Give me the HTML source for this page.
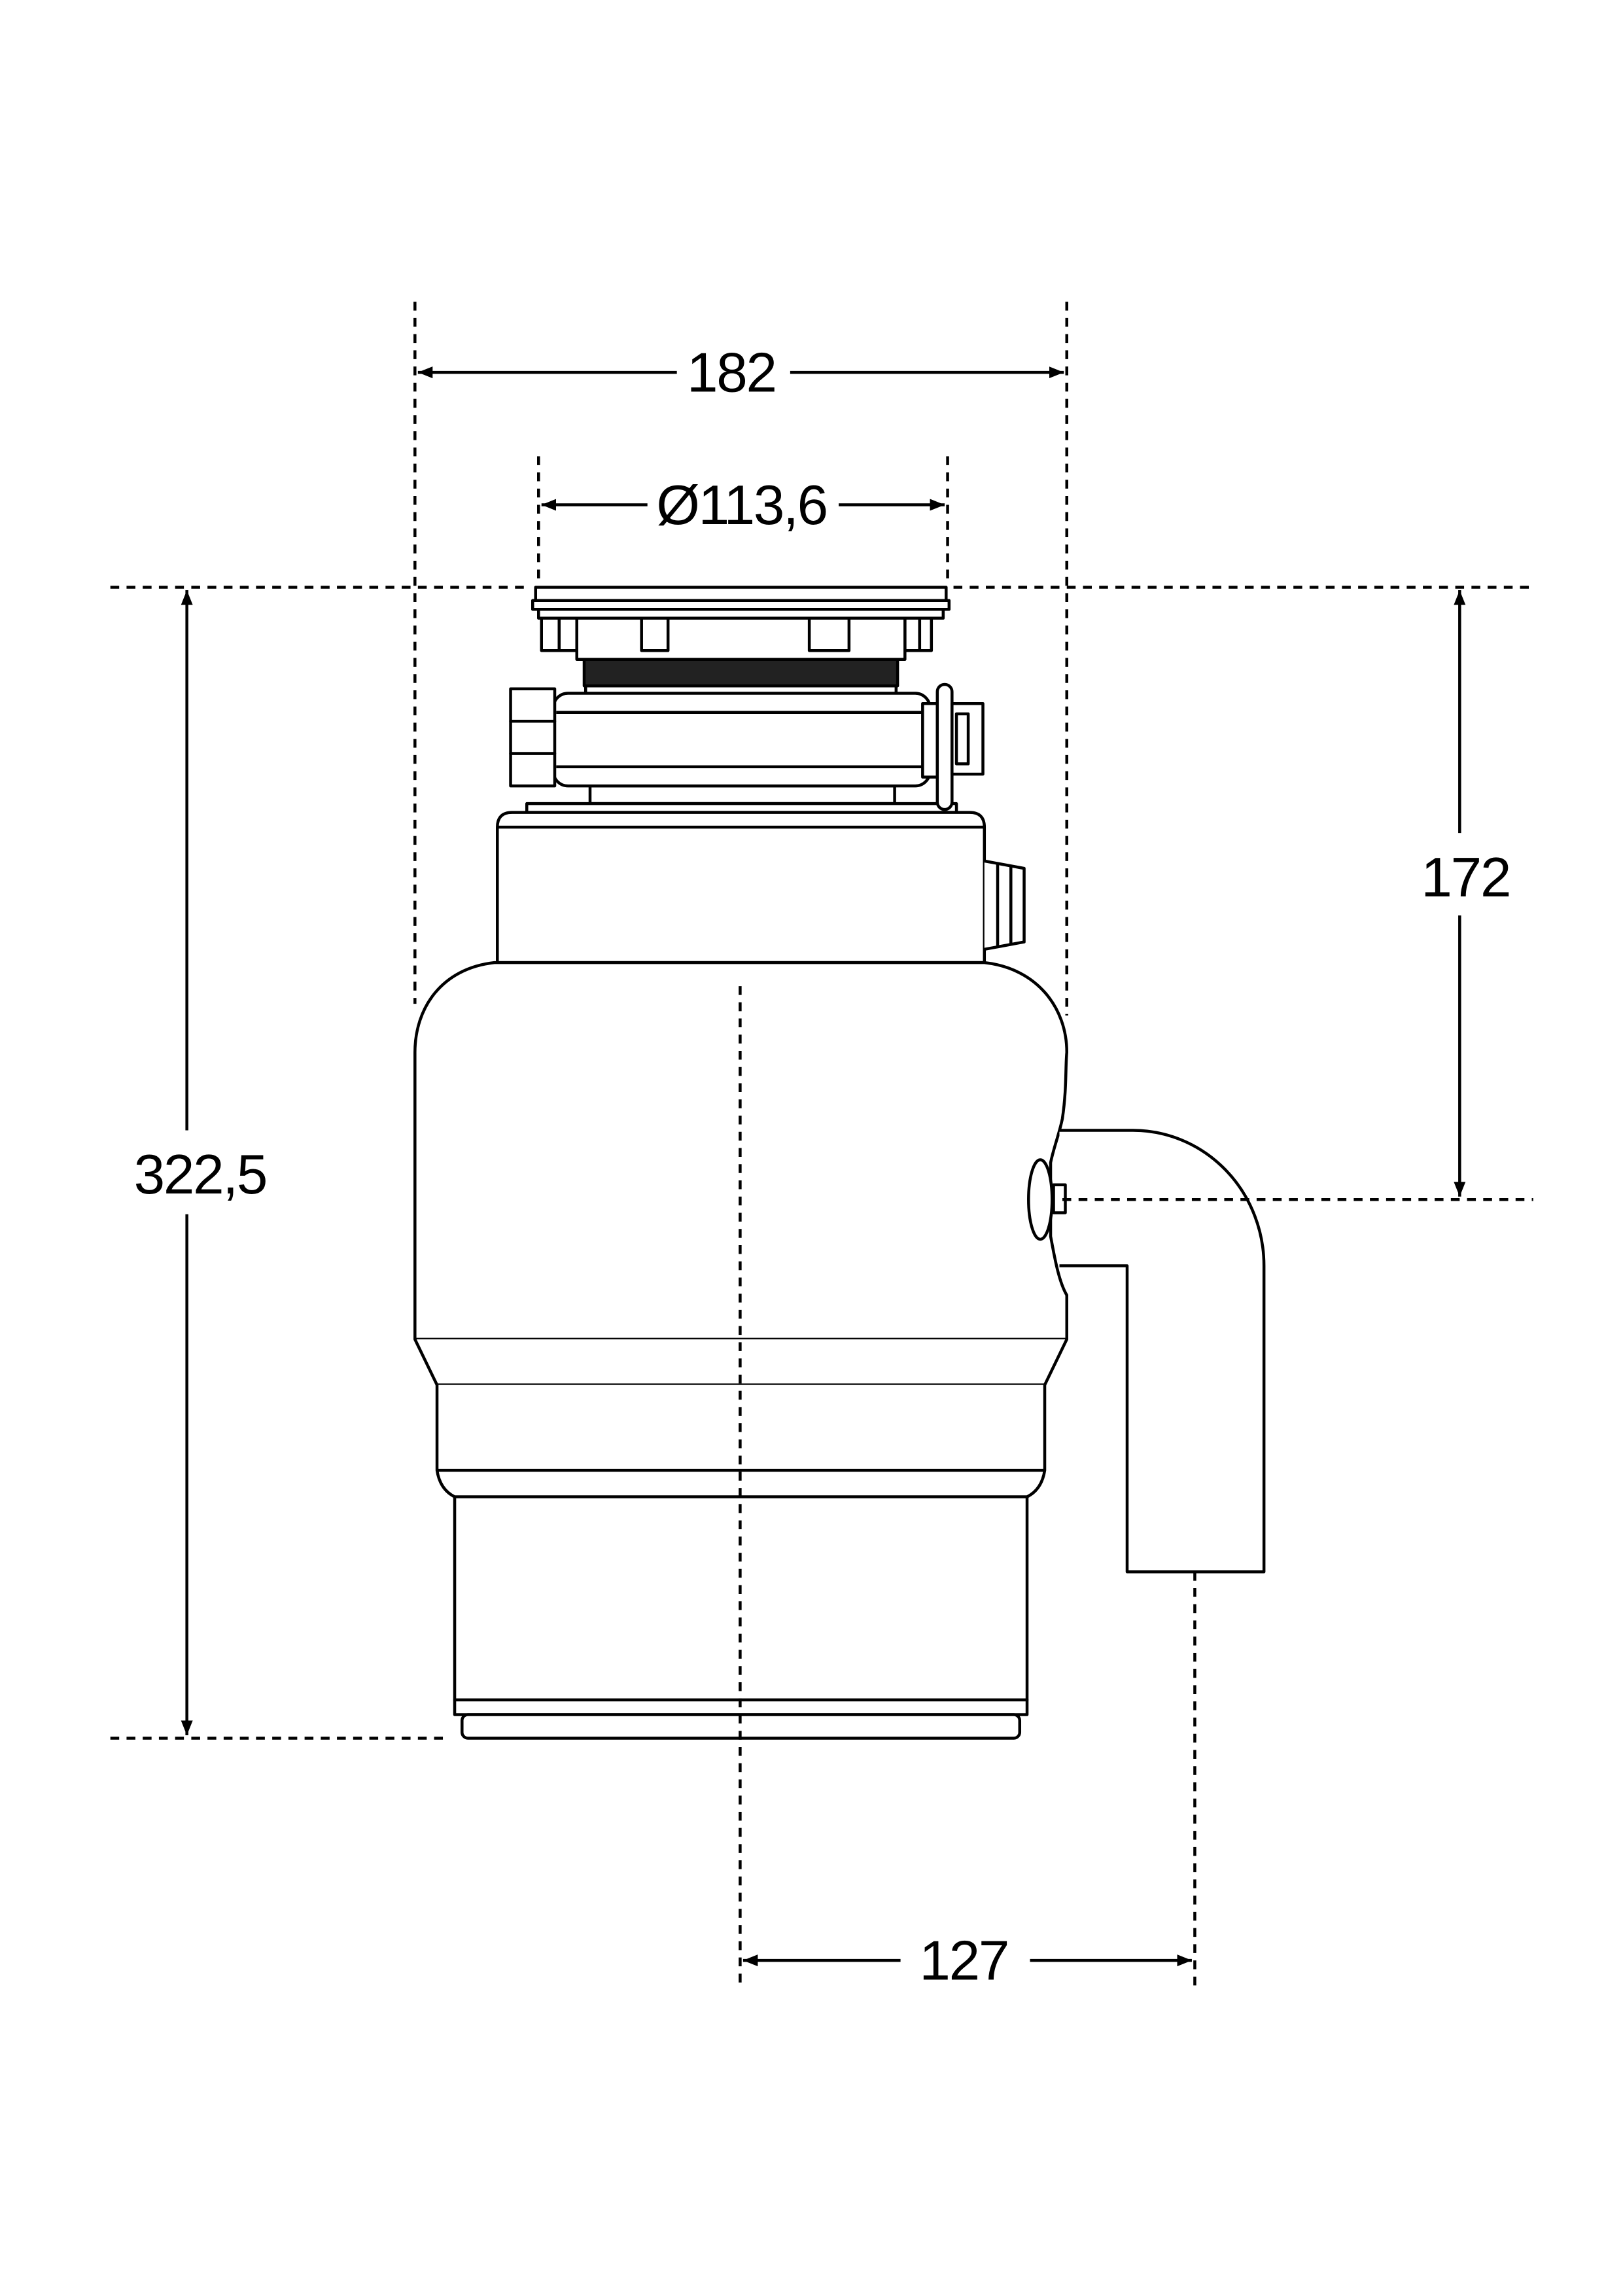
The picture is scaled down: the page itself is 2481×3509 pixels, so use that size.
<!DOCTYPE html>
<html><head><meta charset="utf-8"><style>html,body{margin:0;padding:0;background:#fff}svg{display:block}</style></head>
<body>
<svg width="2481" height="3509" viewBox="0 0 1103 1560" xmlns="http://www.w3.org/2000/svg">
<defs><marker id="a" viewBox="0 0 10 10" refX="10" refY="5" markerWidth="10" markerHeight="10" markerUnits="userSpaceOnUse" orient="auto-start-reverse"><path d="M0,1 L10,5 L0,9z" fill="#000"/></marker></defs>
<rect width="1103" height="1560" fill="#fff"/>
<g stroke="#000" stroke-width="2" fill="#fff" stroke-linejoin="round">
<rect x="364" y="399" width="279" height="9"/>
<rect x="362" y="408" width="283" height="6"/>
<rect x="366" y="414" width="275" height="6"/>
<rect x="368" y="420" width="12" height="22"/>
<rect x="380" y="420" width="12" height="22"/>
<rect x="615" y="420" width="10" height="22"/>
<rect x="625" y="420" width="8" height="22"/>
<rect x="392" y="420" width="223" height="28"/>
<rect x="436" y="420" width="18" height="22"/>
<rect x="550" y="420" width="27" height="22"/>
<rect x="397" y="448" width="213" height="18" fill="#222"/>
<rect x="398" y="466" width="211" height="6"/>
<rect x="401" y="534" width="207" height="12"/>
<rect x="358" y="546" width="292" height="6"/>
<rect x="376" y="471" width="256" height="63" rx="10"/>
<line x1="378" y1="484" x2="630" y2="484"/>
<line x1="378" y1="521" x2="630" y2="521"/>
<rect x="347" y="468" width="30" height="22"/>
<rect x="347" y="490" width="30" height="22"/>
<rect x="347" y="512" width="30" height="22"/>
<rect x="627" y="478" width="10" height="50"/>
<rect x="637" y="465" width="10" height="85" rx="5"/>
<rect x="647" y="478" width="21" height="48"/>
<rect x="650" y="485" width="8" height="34"/>
<path d="M338,562 Q338,552 348,552 L659,552 Q669,552 669,562 L669,654 L338,654 Z"/>
<line x1="338" y1="562" x2="669" y2="562"/>
<path d="M669,585 L696,590 L696,640 L669,645"/>
<line x1="678" y1="587" x2="678" y2="643"/>
<line x1="687" y1="588" x2="687" y2="642"/>
<path d="M336,654 C300,658 282,685 282,715 L282,910 L725,910 L725,880 C719,870 716,850 714,840 L714,790 C716,780 720,770 722,760 C725,740 724,725 725,715 C725,685 705,658 669,654 Z"/>
<path d="M720,768 L770,768 A89,92 0 0 1 859,860 L859,1068 L766,1068 L766,860 L720,860"/>
<ellipse cx="707" cy="815" rx="8" ry="27"/>
<rect x="716" y="805" width="8" height="19"/>
<path d="M282,910 L297,941 L710,941 L725,910"/>
<path d="M297,941 L297,999 Q299,1012 309,1017 L698,1017 Q708,1012 710,999 L710,941"/>
<line x1="297" y1="999" x2="710" y2="999"/>
<rect x="309" y="1017" width="389" height="138"/>
<rect x="309" y="1155" width="389" height="10"/>
<rect x="314" y="1165" width="379" height="16" rx="4"/>
</g>
<g stroke="#000" stroke-width="2" stroke-dasharray="6,5" fill="none">
<line x1="282" y1="205" x2="282" y2="682"/>
<line x1="725" y1="205" x2="725" y2="690"/>
<line x1="366" y1="310" x2="366" y2="398"/>
<line x1="644" y1="310" x2="644" y2="398"/>
<line x1="75" y1="399" x2="358" y2="399"/>
<line x1="648" y1="399" x2="1042" y2="399"/>
<line x1="75" y1="1181" x2="302" y2="1181"/>
<line x1="722" y1="815" x2="1042" y2="815"/>
<line x1="503" y1="670" x2="503" y2="1352"/>
<line x1="812" y1="1068" x2="812" y2="1352"/>
</g>
<g stroke="#000" stroke-width="2" fill="none">
<line x1="284" y1="253" x2="460" y2="253" marker-start="url(#a)"/>
<line x1="537" y1="253" x2="723" y2="253" marker-end="url(#a)"/>
<line x1="368" y1="343" x2="440" y2="343" marker-start="url(#a)"/>
<line x1="570" y1="343" x2="642" y2="343" marker-end="url(#a)"/>
<line x1="127" y1="401" x2="127" y2="768" marker-start="url(#a)"/>
<line x1="127" y1="825" x2="127" y2="1179" marker-end="url(#a)"/>
<line x1="992" y1="401" x2="992" y2="566" marker-start="url(#a)"/>
<line x1="992" y1="622" x2="992" y2="813" marker-end="url(#a)"/>
<line x1="505" y1="1332" x2="612" y2="1332" marker-start="url(#a)"/>
<line x1="700" y1="1332" x2="810" y2="1332" marker-end="url(#a)"/>
</g>
<g font-family="Liberation Sans, sans-serif" font-size="38" text-anchor="middle" fill="#000" letter-spacing="-1">
<text x="497" y="266">182</text>
<text x="504" y="356">Ø113,6</text>
<text x="136" y="811">322,5</text>
<text x="996" y="609">172</text>
<text x="655" y="1345">127</text>
</g>
</svg>
</body></html>
